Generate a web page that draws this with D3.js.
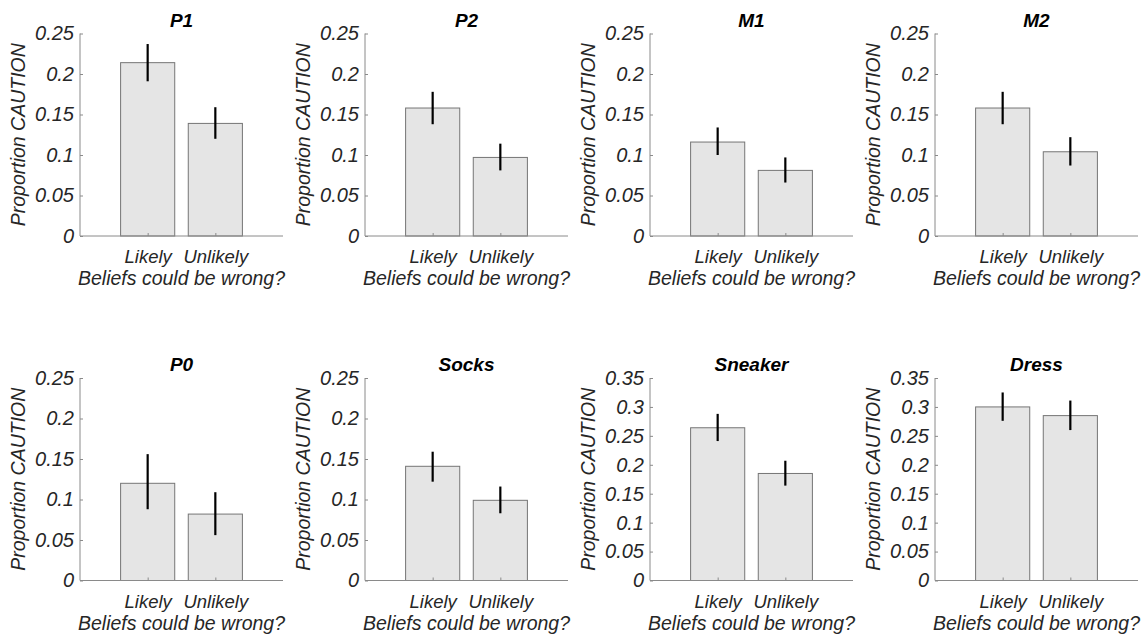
<!DOCTYPE html>
<html>
<head>
<meta charset="utf-8">
<script src="https://cdn.jsdelivr.net/npm/d3@7"></script>
<style>
  html, body { margin: 0; padding: 0; background: #fff; }
  text { font-family: "Liberation Sans", Arial, Helvetica, sans-serif; }
</style>
</head>
<body>
<svg id="chart" width="1144" height="635"></svg>
<script>
// ---- data ----
const panelTitles = ["P1", "P2", "M1", "M2", "P0", "Socks", "Sneaker", "Dress"];
const categories = ["Likely", "Unlikely"];
const likelyMean   = [0.214, 0.158, 0.116, 0.158, 0.120, 0.141, 0.264, 0.300];
const unlikelyMean = [0.139, 0.097, 0.081, 0.104, 0.082, 0.099, 0.185, 0.285];
const likelyLow    = [0.191, 0.138, 0.100, 0.138, 0.088, 0.122, 0.241, 0.276];
const likelyHigh   = [0.237, 0.178, 0.134, 0.178, 0.156, 0.159, 0.288, 0.325];
const unlikelyLow  = [0.120, 0.081, 0.066, 0.087, 0.056, 0.083, 0.164, 0.260];
const unlikelyHigh = [0.159, 0.114, 0.097, 0.122, 0.109, 0.116, 0.207, 0.311];
const yMax         = [0.25, 0.25, 0.25, 0.25, 0.25, 0.25, 0.35, 0.35];
const yTicks25 = [0, 0.05, 0.1, 0.15, 0.2, 0.25];
const yTicks35 = [0, 0.05, 0.1, 0.15, 0.2, 0.25, 0.3, 0.35];
const yLabel = "Proportion CAUTION";
const xLabel = "Beliefs could be wrong?";

// ---- layout ----
const svg = d3.select("#chart");
const colLeft = [80, 365, 650, 935];
const rowTop = [33.5, 378];
const plotW = 203, plotH = 202.5;
const textColor = "#262626";
const axisColor = "#8a8a8a";
const fontSize = "20px";

panelTitles.forEach((title, i) => {
  const col = i % 4, row = Math.floor(i / 4);
  const g = svg.append("g").attr("transform", `translate(${colLeft[col]},${rowTop[row]})`);

  const x = d3.scaleLinear().domain([0, 3]).range([0, plotW]);
  const y = d3.scaleLinear().domain([0, yMax[i]]).range([plotH, 0]);
  const ticks = yMax[i] > 0.3 ? yTicks35 : yTicks25;

  const means = [likelyMean[i], unlikelyMean[i]];
  const lows = [likelyLow[i], unlikelyLow[i]];
  const highs = [likelyHigh[i], unlikelyHigh[i]];
  const barW = x(0.8) - x(0);

  // bars
  g.selectAll("rect.bar").data(categories).enter().append("rect")
    .attr("class", "bar")
    .attr("x", (d, k) => x(k + 1) - barW / 2)
    .attr("y", (d, k) => y(means[k]))
    .attr("width", barW)
    .attr("height", (d, k) => y(0) - y(means[k]))
    .attr("fill", "#e5e5e5")
    .attr("stroke", "#757575")
    .attr("stroke-width", 1);

  // error bars
  g.selectAll("line.err").data(categories).enter().append("line")
    .attr("class", "err")
    .attr("x1", (d, k) => x(k + 1)).attr("x2", (d, k) => x(k + 1))
    .attr("y1", (d, k) => y(lows[k])).attr("y2", (d, k) => y(highs[k]))
    .attr("stroke", "#000").attr("stroke-width", 2.2);

  // y axis
  const yAxis = d3.axisLeft(y).tickValues(ticks).tickSize(-3).tickPadding(6)
    .tickFormat(v => String(+v.toFixed(2)));
  const ya = g.append("g").call(yAxis);
  ya.select(".domain").attr("stroke", axisColor).attr("d", `M0,0V${plotH}`);
  ya.selectAll(".tick line").attr("stroke", axisColor);
  ya.selectAll(".tick text").attr("fill", textColor)
    .style("font-size", fontSize).style("font-style", "italic")
    .style("font-family", '"Liberation Sans", Arial, sans-serif');

  // x axis
  const xAxis = d3.axisBottom(x).tickValues([1, 2]).tickSize(-3).tickPadding(14)
    .tickFormat(v => categories[v - 1]);
  const xa = g.append("g").attr("transform", `translate(0,${plotH})`).call(xAxis);
  xa.select(".domain").attr("stroke", axisColor).attr("d", `M0,0H${plotW}`);
  xa.selectAll(".tick line").attr("stroke", axisColor);
  xa.selectAll(".tick text").attr("fill", textColor)
    .style("font-size", "18.5px").style("font-style", "italic")
    .style("font-family", '"Liberation Sans", Arial, sans-serif');

  // x label
  g.append("text")
    .attr("x", plotW / 2).attr("y", plotH + 49)
    .attr("text-anchor", "middle")
    .attr("fill", textColor)
    .style("font-size", "19.5px").style("font-style", "italic")
    .text(xLabel);

  // y label
  g.append("text")
    .attr("transform", `translate(-55,${plotH / 2}) rotate(-90)`)
    .attr("text-anchor", "middle")
    .attr("fill", textColor)
    .style("font-size", "19.5px").style("font-style", "italic")
    .text(yLabel);

  // title
  g.append("text")
    .attr("x", plotW / 2).attr("y", -7)
    .attr("text-anchor", "middle")
    .attr("fill", "#000")
    .style("font-size", "19px").style("font-style", "italic").style("font-weight", "bold")
    .text(title);
});
</script>
</body>
</html>
